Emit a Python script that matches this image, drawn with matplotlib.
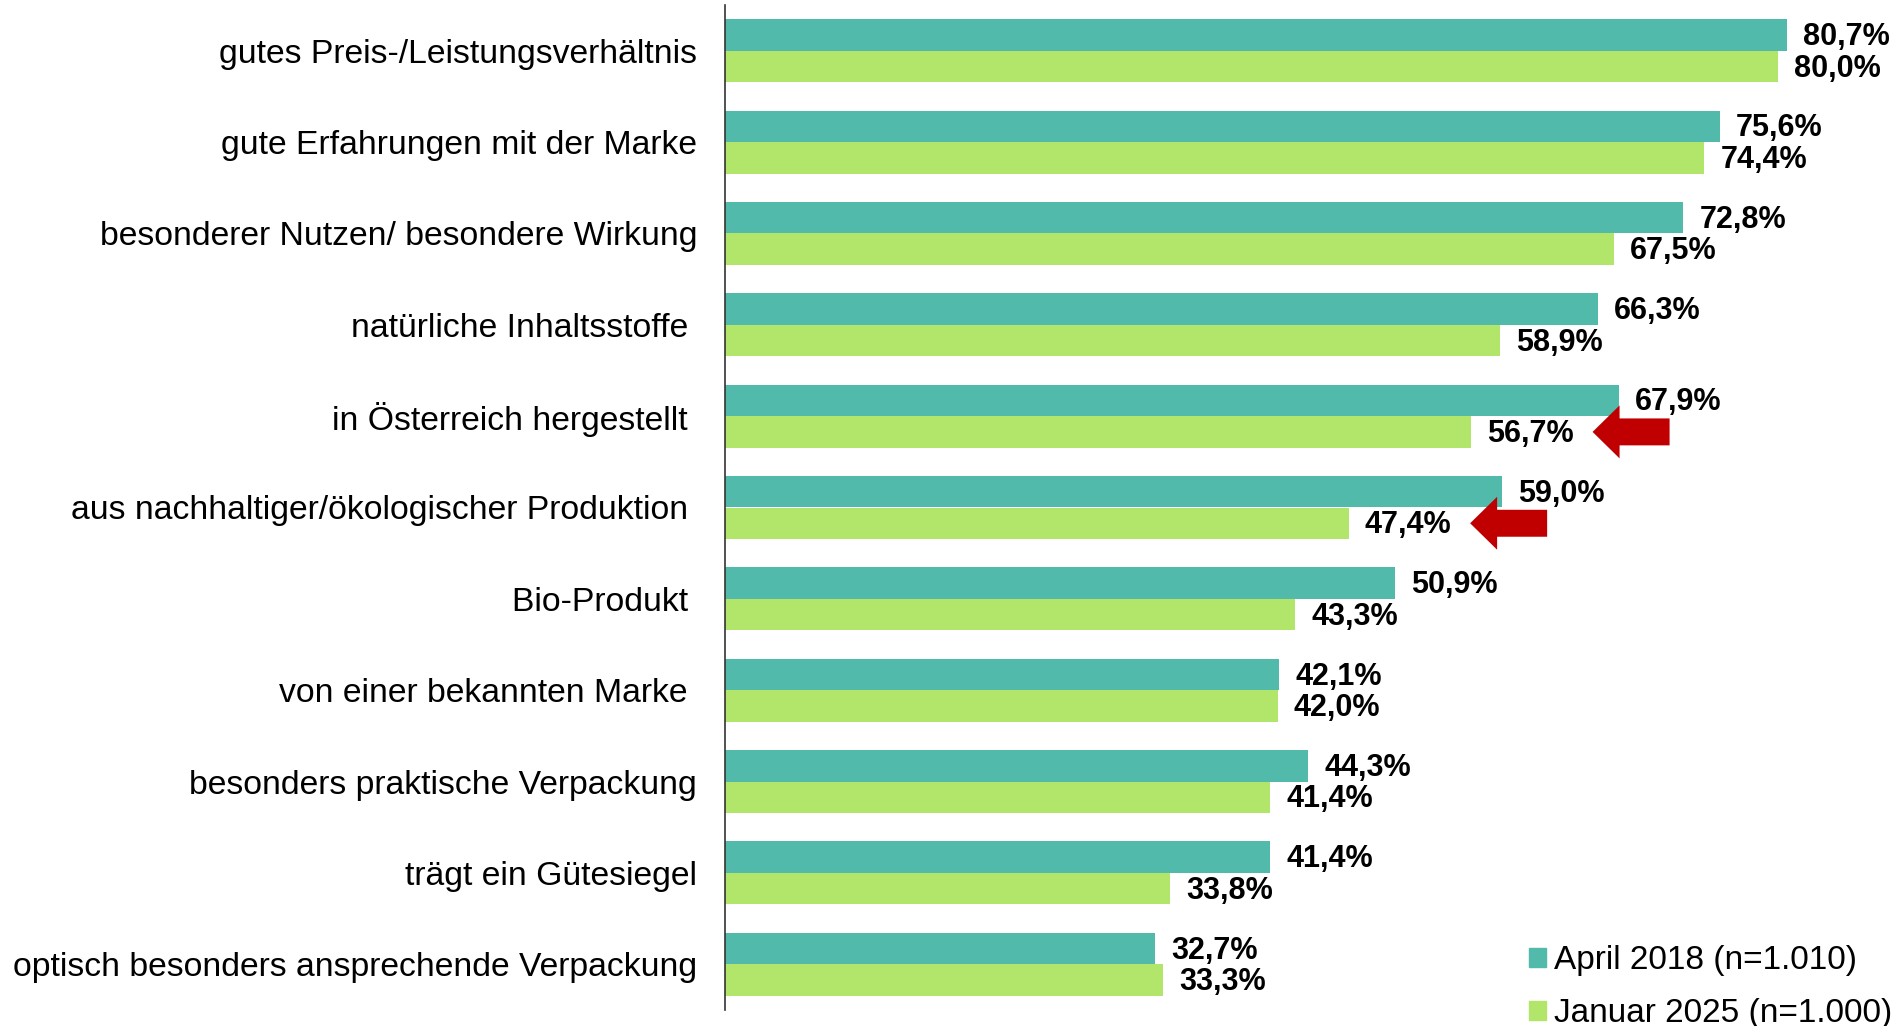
import matplotlib
matplotlib.use("Agg")
import matplotlib.pyplot as plt
from matplotlib.patches import Patch
import numpy as np

plt.rcParams['font.family'] = ['Liberation Sans', 'DejaVu Sans']

# Kaufgründe, von oben nach unten
categories = [
    "gutes Preis-/Leistungsverhältnis",
    "gute Erfahrungen mit der Marke",
    "besonderer Nutzen/ besondere Wirkung",
    "natürliche Inhaltsstoffe ",
    "in Österreich hergestellt ",
    "aus nachhaltiger/ökologischer Produktion ",
    "Bio-Produkt ",
    "von einer bekannten Marke ",
    "besonders praktische Verpackung",
    "trägt ein Gütesiegel",
    "optisch besonders ansprechende Verpackung",
]
april_2018 = [80.7, 75.6, 72.8, 66.3, 67.9, 59.0, 50.9, 42.1, 44.3, 41.4, 32.7]
januar_2025 = [80.0, 74.4, 67.5, 58.9, 56.7, 47.4, 43.3, 42.0, 41.4, 33.8, 33.3]
series_names = ["April 2018 (n=1.010)", "Januar 2025 (n=1.000)"]

# Zeilen mit deutlichem Rückgang bekommen einen Pfeil
arrow_rows = [4, 5]

teal = "#51BAAA"
green = "#B2E66A"
red = "#C00000"

fig = plt.figure(figsize=(18.98, 10.26), dpi=100)
ax = fig.add_axes([725 / 1898, 1 - 1010 / 1026, 1 - 725 / 1898, 1005 / 1026])

y = np.arange(len(categories))
h = 0.345
ax.barh(y - h / 2, april_2018, height=h, color=teal)
ax.barh(y + h / 2, januar_2025, height=h, color=green)

for i in range(len(categories)):
    for val, off in ((april_2018[i], -h / 2), (januar_2025[i], h / 2)):
        ax.annotate(f"{val:.1f}%".replace(".", ","), (val, y[i] + off),
                    xytext=(11.5, -1.5), textcoords="offset points",
                    ha="left", va="center", fontsize=22, fontweight="bold")

for i in arrow_rows:
    tip = januar_2025[i] + 9.2
    ax.arrow(tip + 5.85, y[i] + h / 2, -5.85, 0, width=0.295, head_width=0.58,
             head_length=2.05, length_includes_head=True, color=red, lw=0)

ax.set_xlim(0, 89.1)
ax.set_ylim(len(categories) - 0.5, -0.5)
ax.set_yticks(y)
ax.set_yticklabels(categories, fontsize=24.3)
ax.tick_params(axis="y", length=0, pad=20)
ax.set_xticks([])
for s in ("top", "right", "bottom"):
    ax.spines[s].set_visible(False)
ax.spines["left"].set_color("#333333")
ax.spines["left"].set_linewidth(1.2)

handles = [Patch(color=teal), Patch(color=green)]
fig.legend(handles, series_names, loc="upper left",
           bbox_to_anchor=(1529 / 1898, 1 - 945 / 1026), frameon=False,
           fontsize=24, handlelength=0.5, handleheight=0.5, handletextpad=0.25,
           labelspacing=0.66, borderpad=0, borderaxespad=0)

fig.savefig("out.png", dpi=100)
